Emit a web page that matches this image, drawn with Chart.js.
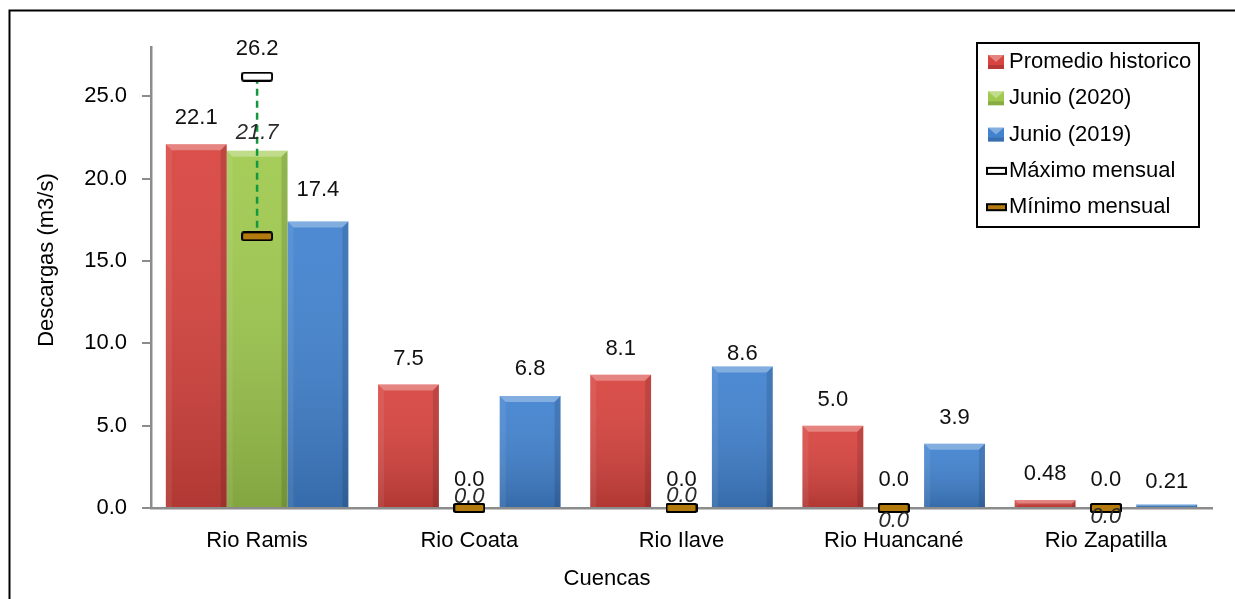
<!DOCTYPE html>
<html>
<head>
<meta charset="utf-8">
<script src="https://cdn.jsdelivr.net/npm/chart.js@4/dist/chart.umd.min.js"></script>
<style>
  html, body { margin: 0; padding: 0; background: #fff; }
  #wrap { width: 1235px; height: 599px; position: relative; }
</style>
</head>
<body>
<div id="wrap"><canvas id="c" width="1235" height="599"></canvas></div>
<script>
// Caudales medios mensuales por cuenca (m3/s)
const cuencas = ['Rio Ramis', 'Rio Coata', 'Rio Ilave', 'Rio Huancané', 'Rio Zapatilla'];
const promedioHistorico = [22.1, 7.5, 8.1, 5.0, 0.48];
const junio2020 = [21.7, 0.0, 0.0, 0.0, 0.0];
const junio2019 = [17.4, 6.8, 8.6, 3.9, 0.21];
const maximoMensual = [26.2, 0.0, 0.0, 0.0, 0.0];
const minimoMensual = [16.5, 0.0, 0.0, 0.0, 0.0];
const yTickValues = [0, 5, 10, 15, 20, 25];

const FONT = '"Liberation Sans", Arial, sans-serif';
const FONT_SIZE = 22;

// Flat marker used for the monthly max / min
function markerImage(fill, w, h) {
  const c = document.createElement('canvas');
  c.width = w; c.height = h;
  const g = c.getContext('2d');
  g.fillStyle = fill;
  g.strokeStyle = '#000';
  g.lineWidth = 2;
  g.beginPath();
  g.roundRect(1, 1, w - 2, h - 2, 2);
  g.fill();
  g.stroke();
  return c;
}
const maxMarker = markerImage('#ffffff', 32, 10);
const minMarker = markerImage('#b37a0e', 32, 10);

function fmt(v) {
  return (v > 0 && v < 1) ? v.toFixed(2) : v.toFixed(1);
}

// Outer frame around the figure
const framePlugin = {
  id: 'frame',
  beforeDraw(chart) {
    const ctx = chart.ctx;
    ctx.save();
    ctx.fillStyle = '#fff';
    ctx.fillRect(0, 0, chart.width, chart.height);
    ctx.strokeStyle = '#000';
    ctx.lineWidth = 2;
    ctx.strokeRect(9.5, 10.5, 1400, 800);
    ctx.restore();
  }
};

// Bevel shading on each bar
const bevelPlugin = {
  id: 'bevel',
  afterDatasetDraw(chart, args) {
    const meta = args.meta;
    if (meta.type !== 'bar') return;
    const ctx = chart.ctx;
    ctx.save();
    meta.data.forEach(el => {
      const p = el.getProps(['x', 'y', 'base', 'width'], true);
      const left = p.x - p.width / 2, right = p.x + p.width / 2;
      const top = Math.min(p.y, p.base), bottom = Math.max(p.y, p.base);
      const h = bottom - top;
      if (h < 0.5) return;
      const b = Math.min(6, h / 2);
      const grad = ctx.createLinearGradient(0, top, 0, bottom);
      grad.addColorStop(0, 'rgba(255,255,255,0.06)');
      grad.addColorStop(1, 'rgba(0,0,0,0.18)');
      ctx.fillStyle = grad;
      ctx.fillRect(left, top, p.width, h);
      // top face
      ctx.fillStyle = 'rgba(255,255,255,0.30)';
      ctx.beginPath();
      ctx.moveTo(left, top); ctx.lineTo(right, top);
      ctx.lineTo(right - b, top + b); ctx.lineTo(left + b, top + b);
      ctx.closePath(); ctx.fill();
      // left face
      ctx.fillStyle = 'rgba(255,255,255,0.07)';
      ctx.beginPath();
      ctx.moveTo(left, top); ctx.lineTo(left + b, top + b);
      ctx.lineTo(left + b, bottom); ctx.lineTo(left, bottom);
      ctx.closePath(); ctx.fill();
      // right face
      ctx.fillStyle = 'rgba(0,0,0,0.12)';
      ctx.beginPath();
      ctx.moveTo(right, top); ctx.lineTo(right - b, top + b);
      ctx.lineTo(right - b, bottom); ctx.lineTo(right, bottom);
      ctx.closePath(); ctx.fill();
    });
    ctx.restore();
  }
};

// Dashed range line between monthly max and min
const rangePlugin = {
  id: 'range',
  beforeDatasetDraw(chart, args) {
    if (chart.data.datasets[args.index].role !== 'max') return;
    const maxMeta = args.meta;
    const minIdx = chart.data.datasets.findIndex(d => d.role === 'min');
    const minMeta = chart.getDatasetMeta(minIdx);
    const ctx = chart.ctx;
    ctx.save();
    ctx.strokeStyle = '#12993e';
    ctx.lineWidth = 2.5;
    ctx.setLineDash([7, 5]);
    maxMeta.data.forEach((pt, i) => {
      const lo = minMeta.data[i];
      if (Math.abs(pt.y - lo.y) < 1) return;
      ctx.beginPath();
      ctx.moveTo(pt.x, pt.y);
      ctx.lineTo(lo.x, lo.y);
      ctx.stroke();
    });
    ctx.restore();
  }
};

// Value labels
const labelPlugin = {
  id: 'valueLabels',
  afterDatasetsDraw(chart, args, opts) {
    const ctx = chart.ctx;
    ctx.save();
    ctx.textAlign = 'center';
    ctx.textBaseline = 'middle';
    chart.data.datasets.forEach((ds, di) => {
      const cfg = opts.sets[ds.role];
      if (!cfg) return;
      const meta = chart.getDatasetMeta(di);
      ctx.font = (cfg.italic ? 'italic ' : '') + FONT_SIZE + 'px ' + FONT;
      ctx.fillStyle = cfg.color;
      meta.data.forEach((el, i) => {
        const v = ds.data[i];
        const lift = Array.isArray(cfg.lift) ? cfg.lift[i] : cfg.lift;
        ctx.fillText(fmt(v), el.x + (cfg.dx || 0), el.y - lift);
      });
    });
    ctx.restore();
  }
};

// Axis titles
const axisTitlePlugin = {
  id: 'axisTitles',
  afterDraw(chart) {
    const ctx = chart.ctx;
    ctx.save();
    ctx.fillStyle = '#000';
    ctx.font = FONT_SIZE + 'px ' + FONT;
    ctx.textAlign = 'center';
    ctx.textBaseline = 'middle';
    ctx.fillText('Cuencas', 607, 579);
    ctx.translate(47, 260);
    ctx.rotate(-Math.PI / 2);
    ctx.fillText('Descargas (m3/s)', 0, 0);
    ctx.restore();
  }
};

// Boxed legend in the upper right corner
const legendBoxPlugin = {
  id: 'legendBox',
  afterDraw(chart) {
    const ctx = chart.ctx;
    const box = { x: 977, y: 43, w: 222, h: 184 };
    ctx.save();
    ctx.fillStyle = '#fff';
    ctx.fillRect(box.x, box.y, box.w, box.h);
    ctx.strokeStyle = '#000';
    ctx.lineWidth = 2;
    ctx.strokeRect(box.x, box.y, box.w, box.h);
    ctx.font = FONT_SIZE + 'px ' + FONT;
    ctx.textBaseline = 'middle';
    ctx.textAlign = 'left';
    chart.data.datasets.forEach((ds, i) => {
      const cy = 62 + i * 36.3;
      if (ds.type === 'line') {
        ctx.fillStyle = ds.role === 'max' ? '#ffffff' : '#b37a0e';
        ctx.strokeStyle = '#000';
        ctx.lineWidth = 2;
        ctx.fillRect(987, cy - 3, 19, 6);
        ctx.strokeRect(987, cy - 3, 19, 6);
      } else {
        ctx.fillStyle = ds.backgroundColor;
        ctx.fillRect(988, cy - 7, 16, 14);
        ctx.fillStyle = 'rgba(255,255,255,0.35)';
        ctx.beginPath();
        ctx.moveTo(988, cy - 7); ctx.lineTo(1004, cy - 7); ctx.lineTo(996, cy);
        ctx.closePath(); ctx.fill();
        ctx.fillStyle = 'rgba(0,0,0,0.15)';
        ctx.fillRect(988, cy + 3, 16, 4);
      }
      ctx.fillStyle = '#000';
      ctx.fillText(ds.label, 1009, cy);
    });
    ctx.restore();
  }
};

new Chart(document.getElementById('c'), {
  type: 'bar',
  data: {
    labels: cuencas,
    datasets: [
      { label: 'Promedio historico', role: 'prom', data: promedioHistorico, backgroundColor: '#d8443f', order: 3,
        categoryPercentage: 0.86, barPercentage: 1, borderWidth: 0 },
      { label: 'Junio (2020)', role: 'j2020', data: junio2020, backgroundColor: '#a0ca4f', order: 3,
        categoryPercentage: 0.86, barPercentage: 1, borderWidth: 0 },
      { label: 'Junio (2019)', role: 'j2019', data: junio2019, backgroundColor: '#4283d0', order: 3,
        categoryPercentage: 0.86, barPercentage: 1, borderWidth: 0 },
      { label: 'Máximo mensual', role: 'max', type: 'line', data: maximoMensual, showLine: false, order: 2,
        clip: false, pointStyle: maxMarker, pointRadius: 10, pointHoverRadius: 10 },
      { label: 'Mínimo mensual', role: 'min', type: 'line', data: minimoMensual, showLine: false, order: 1,
        clip: false, pointStyle: minMarker, pointRadius: 10, pointHoverRadius: 10 }
    ]
  },
  options: {
    responsive: false,
    animation: false,
    events: [],
    layout: { padding: { left: 34, top: 47, right: 23, bottom: 0 } },
    plugins: {
      legend: { display: false },
      tooltip: { enabled: false },
      valueLabels: {
        sets: {
          prom:  { lift: 26, color: '#111' },
          j2019: { lift: [32, 27, 12, 26, 23], color: '#111' },
          j2020: { lift: [18, 11, 12, -13, -9], italic: true, color: '#2a2a2a' },
          max:   { lift: 28, color: '#111' }
        }
      }
    },
    scales: {
      x: {
        grid: { display: false, drawTicks: false },
        border: { display: true, color: '#8c8c8c', width: 2.5 },
        ticks: { color: '#000', padding: 20, font: { family: FONT, size: FONT_SIZE } },
        afterFit(s) { s.height = 91; }
      },
      y: {
        min: 0,
        max: 28,
        grid: { display: true, drawOnChartArea: false, drawTicks: true, tickLength: 9, color: '#8c8c8c', lineWidth: 2 },
        border: { display: true, color: '#8c8c8c', width: 2.5 },
        ticks: {
          color: '#000', padding: 15, stepSize: 5,
          font: { family: FONT, size: FONT_SIZE },
          callback: v => Number(v).toFixed(1)
        },
        afterBuildTicks(s) { s.ticks = yTickValues.map(v => ({ value: v })); },
        afterFit(s) { s.width = 117; }
      }
    }
  },
  plugins: [framePlugin, bevelPlugin, rangePlugin, labelPlugin, axisTitlePlugin, legendBoxPlugin]
});
</script>
</body>
</html>
